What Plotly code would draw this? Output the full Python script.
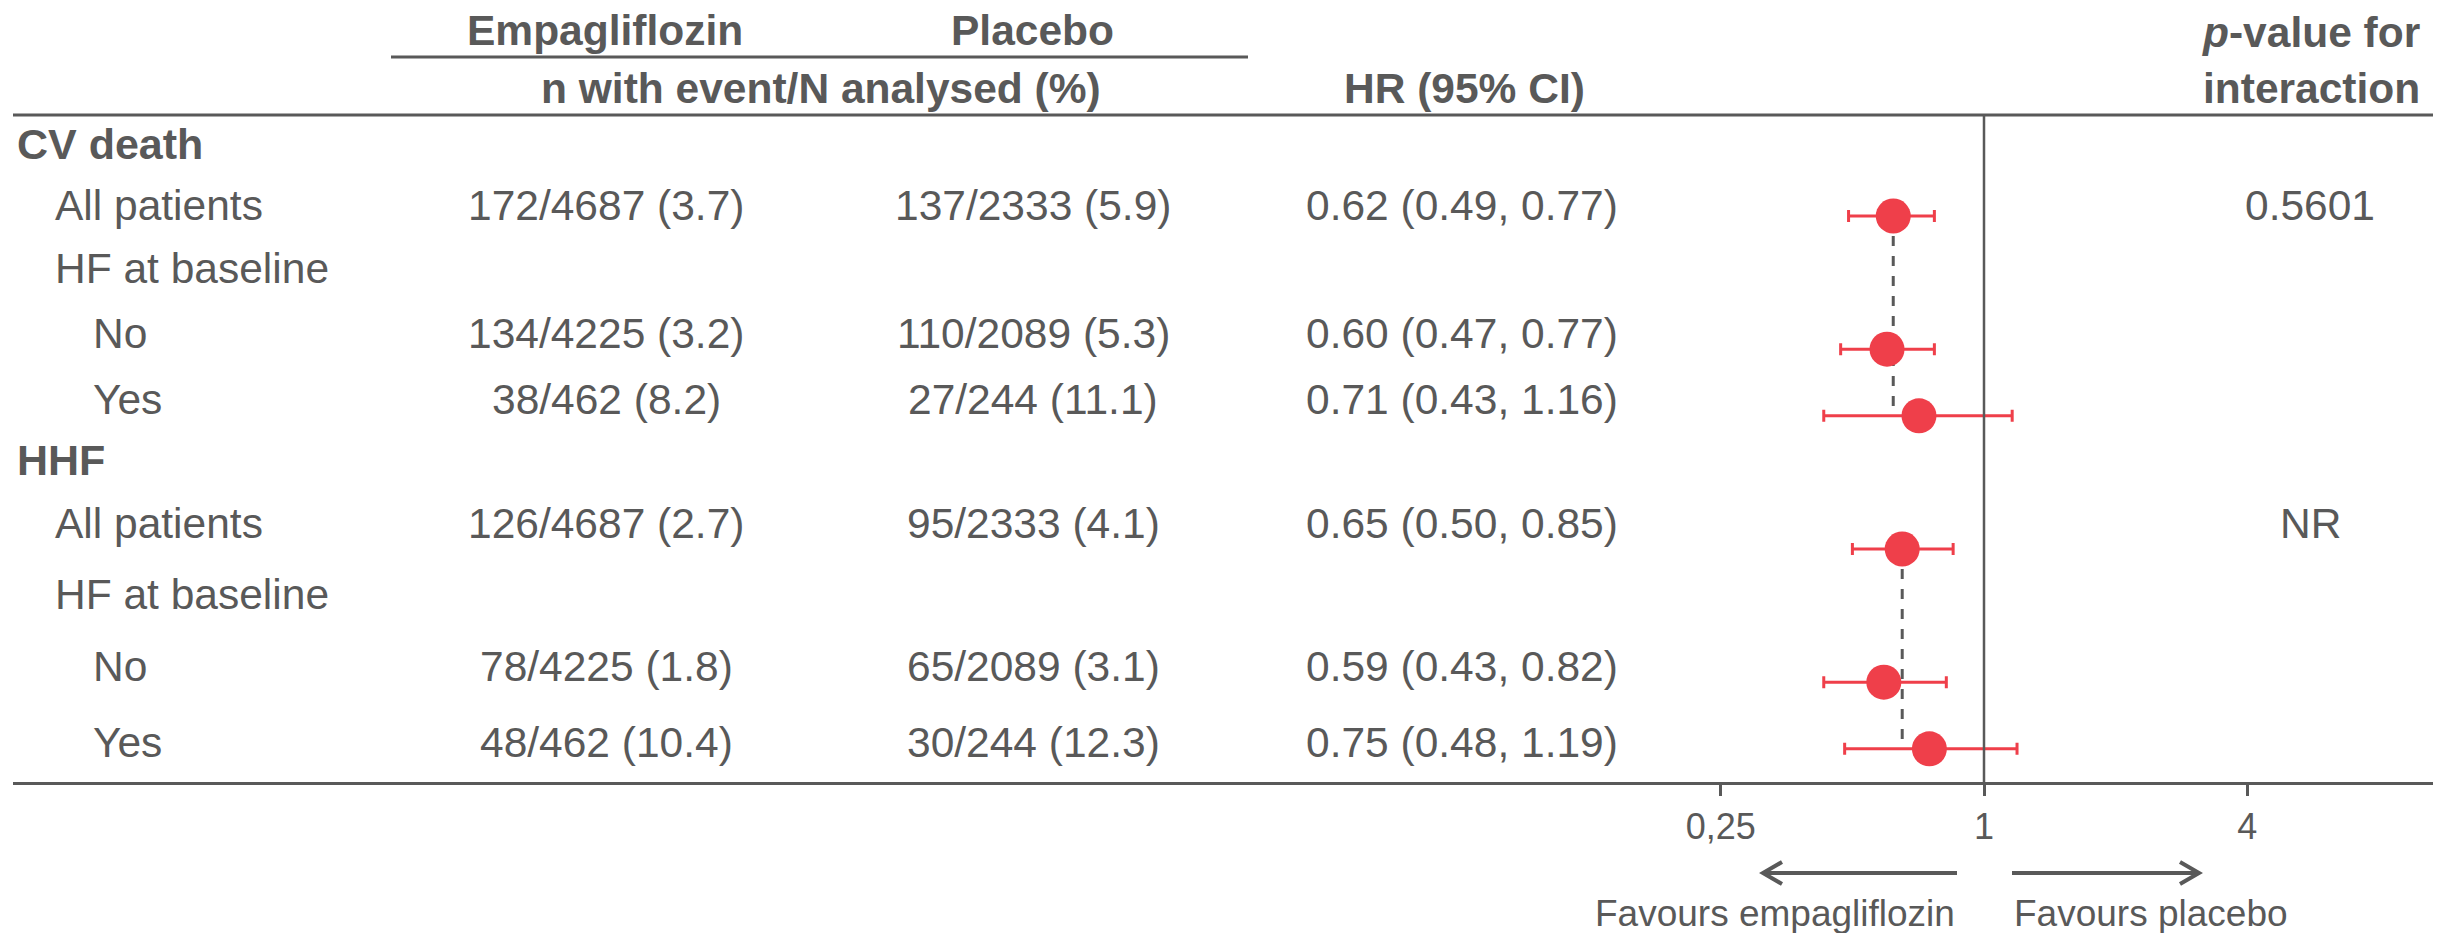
import math
import plotly.graph_objects as go

# ---------------- data ----------------
labels = ["CV death", "All patients", "HF at baseline", "No", "Yes",
          "HHF", "All patients", "HF at baseline", "No", "Yes"]
levels = [0, 1, 1, 2, 2, 0, 1, 1, 2, 2]
empa = ["", "172/4687 (3.7)", "", "134/4225 (3.2)", "38/462 (8.2)",
        "", "126/4687 (2.7)", "", "78/4225 (1.8)", "48/462 (10.4)"]
placebo = ["", "137/2333 (5.9)", "", "110/2089 (5.3)", "27/244 (11.1)",
           "", "95/2333 (4.1)", "", "65/2089 (3.1)", "30/244 (12.3)"]
hr = [None, 0.62, None, 0.60, 0.71, None, 0.65, None, 0.59, 0.75]
ci_lo = [None, 0.49, None, 0.47, 0.43, None, 0.50, None, 0.43, 0.48]
ci_hi = [None, 0.77, None, 0.77, 1.16, None, 0.85, None, 0.82, 1.19]
pvals = ["", "0.5601", "", "", "", "", "NR", "", "", ""]
tick_vals = [0.25, 1, 4]
tick_text = ["0,25", "1", "4"]
groups = [(1, 4), (6, 9)]  # (overall row, last subgroup row) for reference lines

# ---------------- layout constants ----------------
W, H = 2445, 933
GRAY = "#595959"
RED = "#EF3F4A"
FONT = "Liberation Sans, Arial, sans-serif"
FS = 42.5
TEXT_ROW = [-0.08, 0.84, 1.79, 2.76, 3.75, 4.66, 5.61, 6.69, 7.77, 8.90]
LEVEL_X = [15, 53, 91]
COL_EMPA, COL_PLAC, COL_HR, COL_P = 606, 1033, 1462, 2310
PX_PER_DOUBLING = 131.6
X_ONE = 1984
X_LEFT, X_RIGHT = 13, 2433
Y_TOP, Y_BOT = 115, 782
ROW0, ROW_STEP = 149.4, 66.6


def px(x):
    return x / W


def py(y):
    return 1 - y / H


def log_at(p):
    return (p - X_ONE) / PX_PER_DOUBLING * math.log10(2)


fig = go.Figure()

rows = [i for i, v in enumerate(hr) if v is not None]

# dashed reference lines at overall HR
for top, bot in groups:
    fig.add_trace(go.Scatter(
        x=[hr[top], hr[top]], y=[top, bot], mode="lines",
        line=dict(color=GRAY, width=3, dash="10px,10px"),
        hoverinfo="skip", showlegend=False))

fig.add_trace(go.Scatter(
    x=[hr[i] for i in rows], y=rows, mode="markers",
    marker=dict(size=35, color=RED, line=dict(width=0)),
    error_x=dict(type="data", symmetric=False,
                 array=[ci_hi[i] - hr[i] for i in rows],
                 arrayminus=[hr[i] - ci_lo[i] for i in rows],
                 color=RED, thickness=3, width=6),
    showlegend=False))

ann = []
# row labels and table cells
for i, lab in enumerate(labels):
    y = TEXT_ROW[i]
    bold = levels[i] == 0
    ann.append(dict(x=px(LEVEL_X[levels[i]]), y=y, xref="paper", yref="y",
                    text=f"<b>{lab}</b>" if bold else lab, showarrow=False,
                    xanchor="left", yanchor="middle",
                    font=dict(size=43 if bold else FS, color=GRAY, family=FONT)))
    for col, txt in ((COL_EMPA, empa[i]), (COL_PLAC, placebo[i]), (COL_P, pvals[i])):
        if txt:
            ann.append(dict(x=px(col), y=y, xref="paper", yref="y", text=txt,
                            showarrow=False, xanchor="center", yanchor="middle",
                            font=dict(size=FS, color=GRAY, family=FONT)))
    if hr[i] is not None:
        ann.append(dict(x=px(COL_HR), y=y, xref="paper", yref="y",
                        text=f"{hr[i]:.2f} ({ci_lo[i]:.2f}, {ci_hi[i]:.2f})",
                        showarrow=False, xanchor="center", yanchor="middle",
                        font=dict(size=FS, color=GRAY, family=FONT)))

# headers
hfont = dict(size=42.5, color=GRAY, family=FONT)
for text, x, y in [("<b>Empagliflozin</b>", 605, 31), ("<b>Placebo</b>", 1032, 31),
                   ("<b>n with event/N analysed (%)</b>", 821, 89),
                   ("<b>HR (95% CI)</b>", 1464, 89),
                   ("<b><i>p</i>-value for</b>", 2311, 32),
                   ("<b>interaction</b>", 2311, 89)]:
    ann.append(dict(x=px(x), y=py(y), xref="paper", yref="paper", text=text,
                    showarrow=False, xanchor="center", yanchor="middle", font=hfont))

# favours text
ffont = dict(size=37, color=GRAY, family=FONT)
ann.append(dict(x=px(1957), y=py(913), xref="paper", yref="paper",
                text="Favours empagliflozin", showarrow=False,
                xanchor="right", yanchor="middle", font=ffont))
ann.append(dict(x=px(2012), y=py(913), xref="paper", yref="paper",
                text="Favours placebo", showarrow=False,
                xanchor="left", yanchor="middle", font=ffont))

shapes = []
line_style = dict(color=GRAY, width=3)
# header underline
shapes.append(dict(type="line", xref="paper", yref="paper", x0=px(391), x1=px(1248),
                   y0=py(57), y1=py(57), line=line_style))
# top rule
shapes.append(dict(type="line", xref="paper", yref="paper", x0=px(X_LEFT), x1=px(X_RIGHT),
                   y0=py(Y_TOP), y1=py(Y_TOP), line=line_style))
# line of no effect
shapes.append(dict(type="line", xref="x", yref="paper", x0=1, x1=1,
                   y0=py(Y_BOT), y1=py(Y_TOP), line=dict(color=GRAY, width=2.5)))
# arrows
ay = py(873)
arrow = dict(color=GRAY, width=4)
shapes.append(dict(type="line", xref="paper", yref="paper", x0=px(1957), x1=px(1764),
                   y0=ay, y1=ay, line=arrow))
shapes.append(dict(type="path", xref="paper", yref="paper",
                   path=f"M {px(1782)},{py(862)} L {px(1763)},{ay} L {px(1782)},{py(884)}",
                   line=arrow))
shapes.append(dict(type="line", xref="paper", yref="paper", x0=px(2012), x1=px(2198),
                   y0=ay, y1=ay, line=arrow))
shapes.append(dict(type="path", xref="paper", yref="paper",
                   path=f"M {px(2180)},{py(862)} L {px(2199)},{ay} L {px(2180)},{py(884)}",
                   line=arrow))

y_top_row = (Y_TOP - ROW0) / ROW_STEP
y_bot_row = (Y_BOT - ROW0) / ROW_STEP

fig.update_layout(
    width=W, height=H, margin=dict(l=0, r=0, t=0, b=0),
    paper_bgcolor="white", plot_bgcolor="white",
    annotations=ann, shapes=shapes,
    xaxis=dict(type="log", range=[log_at(X_LEFT), log_at(X_RIGHT)],
               domain=[px(X_LEFT), px(X_RIGHT)],
               showgrid=False, zeroline=False, showline=True, linecolor=GRAY, linewidth=3,
               ticks="outside", ticklen=11, tickwidth=2.5, tickcolor=GRAY,
               tickvals=tick_vals, ticktext=tick_text,
               tickfont=dict(size=36, color=GRAY, family=FONT)),
    yaxis=dict(range=[y_bot_row, y_top_row], domain=[py(Y_BOT), py(Y_TOP)],
               visible=False, showgrid=False, zeroline=False),
)

fig.write_html(
    "out.html",
    config={"displayModeBar": False},
    post_script="document.body.style.margin='0';document.body.style.overflow='hidden';",
)
